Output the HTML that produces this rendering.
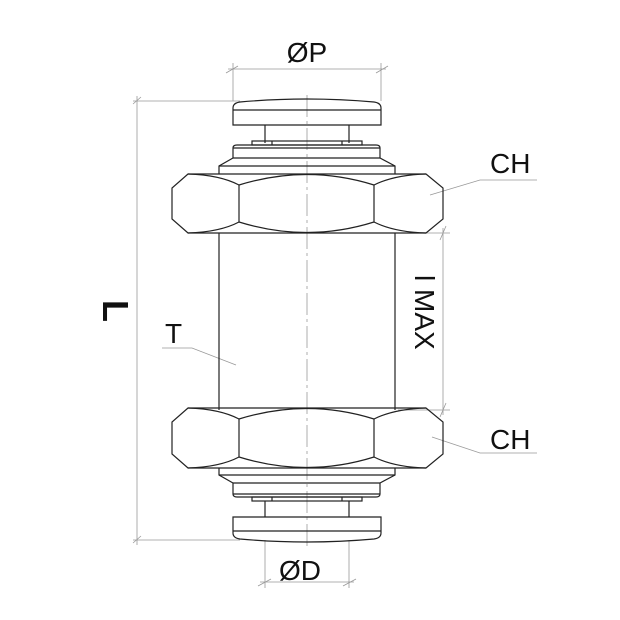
<!DOCTYPE html>
<html><head><style>body{margin:0;background:#fff}svg{display:block}</style></head><body>
<svg width="620" height="620" viewBox="0 0 620 620" xmlns="http://www.w3.org/2000/svg" font-family="Liberation Sans, sans-serif">
<g stroke="#999" stroke-width="0.8" fill="none">
<line x1="307" y1="95" x2="307" y2="548" stroke-dasharray="22,4,3,4"/>
<line x1="233" y1="63" x2="233" y2="101"/><line x1="381" y1="63" x2="381" y2="101"/>
<line x1="228" y1="69" x2="386" y2="69"/>
<line x1="226" y1="73" x2="238" y2="66"/><line x1="376" y1="73" x2="388" y2="66"/>
<line x1="133" y1="101" x2="240" y2="101"/><line x1="133" y1="540" x2="240" y2="540"/>
<line x1="137" y1="96" x2="137" y2="545"/>
<line x1="133" y1="104" x2="141" y2="97"/><line x1="133" y1="543" x2="141" y2="536"/>
<line x1="265" y1="540" x2="265" y2="588"/><line x1="349" y1="540" x2="349" y2="588"/>
<line x1="260" y1="582" x2="354" y2="582"/>
<line x1="258" y1="586" x2="271" y2="579"/><line x1="343" y1="586" x2="356" y2="579"/>
<line x1="398" y1="233" x2="450" y2="233"/><line x1="398" y1="410" x2="450" y2="410"/>
<line x1="443" y1="228" x2="443" y2="415"/>
<line x1="440" y1="240" x2="446" y2="226"/><line x1="440" y1="417" x2="446" y2="403"/>
<polyline points="430,195 480,180 537,180"/>
<polyline points="432,437 480,453 537,453"/>
<polyline points="162,348 192,348 236,365"/>
</g>
<g stroke="#222" stroke-width="1.2" fill="none">
<path d="M233,125 L233,108 Q233,103 240,102 Q307,96 374,102 Q381,103 381,108 L381,125 Z"/>
<line x1="233" y1="110" x2="381" y2="110"/>
<line x1="265" y1="125" x2="265" y2="143"/><line x1="349" y1="125" x2="349" y2="143"/>
<rect x="252" y="141" width="110" height="4"/>
<line x1="272" y1="141" x2="272" y2="145"/><line x1="342" y1="141" x2="342" y2="145"/>
<path d="M233,158 L233,148 Q233,145 237,145 L376,145 Q380,145 380,148 L380,158"/>
<line x1="233" y1="148" x2="380" y2="148"/>
<path d="M233,158 L219,166 L219,174 M380,158 L395,166 L395,174"/>
<line x1="219" y1="166" x2="395" y2="166"/>
<line x1="233" y1="158" x2="380" y2="158"/>
<path d="M188,174 L426,174 L443,188 L443,219 L426,233 L188,233 L172,219 L172,188 Z"/>
<path d="M239,185 L239,222 M374,185 L374,222"/>
<path d="M188,174 Q220,175 239,185 Q307,164 374,185 Q394,175 426,174"/>
<path d="M188,233 Q220,232 239,222 Q307,243 374,222 Q394,232 426,233"/>
<line x1="219" y1="233" x2="219" y2="410"/><line x1="395" y1="233" x2="395" y2="410"/>
<path d="M188,408 L426,408 L443,422 L443,454 L426,468 L188,468 L172,454 L172,422 Z"/>
<path d="M239,419 L239,457 M374,419 L374,457"/>
<path d="M188,408 Q220,409 239,419 Q307,398 374,419 Q394,409 426,408"/>
<path d="M188,468 Q220,467 239,457 Q307,478 374,457 Q394,467 426,468"/>
<path d="M219,468 L219,475 L233,483 M395,468 L395,475 L380,483"/>
<line x1="219" y1="475" x2="395" y2="475"/>
<line x1="233" y1="483" x2="380" y2="483"/>
<path d="M233,483 L233,494 Q233,497 237,497 L376,497 Q380,497 380,494 L380,483"/>
<line x1="233" y1="494" x2="380" y2="494"/>
<rect x="252" y="497" width="110" height="4"/>
<line x1="272" y1="497" x2="272" y2="501"/><line x1="342" y1="497" x2="342" y2="501"/>
<line x1="265" y1="501" x2="265" y2="517"/><line x1="349" y1="501" x2="349" y2="517"/>
<path d="M233,517 L233,533 Q233,538 240,539 Q307,545 374,539 Q381,538 381,533 L381,517 Z"/>
<line x1="233" y1="531" x2="381" y2="531"/>
</g>
<g fill="#111">
<text x="307" y="62" font-size="28" text-anchor="middle">ØP</text>
<text x="300" y="580" font-size="28" text-anchor="middle">ØD</text>
<text x="490" y="173" font-size="28">CH</text>
<text x="490" y="449" font-size="28">CH</text>
<text x="165" y="343" font-size="28">T</text>
<text font-size="36" font-weight="bold" transform="translate(103,300) rotate(90)">L</text>
<text font-size="28" transform="translate(415,275) rotate(90)">l MAX</text>
</g>
</svg>
</body></html>
